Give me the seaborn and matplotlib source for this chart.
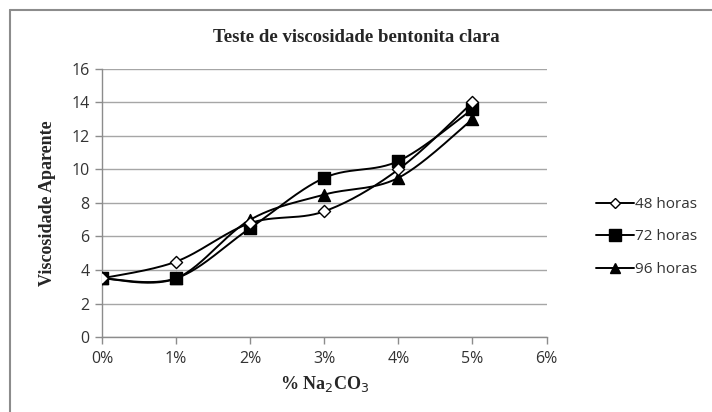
import numpy as np
import pandas as pd
import seaborn as sns
import matplotlib
matplotlib.use("Agg")
import matplotlib.pyplot as plt
from matplotlib.lines import Line2D

# ---- data ----
concentracao = [0, 1, 2, 3, 4, 5]          # % Na2CO3
h48 = [3.5, 4.5, 6.8, 7.5, 10.0, 14.0]
h72 = [3.5, 3.5, 6.5, 9.5, 10.5, 13.6]
h96 = [3.5, 3.5, 7.0, 8.5, 9.5, 13.0]
series_names = ["48 horas", "72 horas", "96 horas"]
x_ticks = [0, 1, 2, 3, 4, 5, 6]
x_tick_labels = ["0%", "1%", "2%", "3%", "4%", "5%", "6%"]
y_ticks = [0, 2, 4, 6, 8, 10, 12, 14, 16]

sns.set_theme(style="white")
plt.rcParams["font.family"] = ["Open Sans", "DejaVu Sans"]

df = pd.DataFrame({"x": concentracao * 3,
                   "y": h48 + h72 + h96,
                   "serie": sum([[n] * len(concentracao) for n in series_names], [])})

fig = plt.figure(figsize=(7.12, 4.12), dpi=100)
ax = fig.add_axes([102 / 712, 1 - 337 / 412, (546.5 - 102) / 712, (337 - 69) / 412])


def smooth(xs, ys, n=30):
    """Excel-like smoothed line (Catmull-Rom Bezier) through the data points."""
    P = np.column_stack([xs, ys]).astype(float)
    pts = []
    for i in range(len(P) - 1):
        p0 = P[i - 1] if i > 0 else P[i]
        p1, p2 = P[i], P[i + 1]
        p3 = P[i + 2] if i + 2 < len(P) else P[i + 1]
        c1 = p1 + (p2 - p0) / 6
        c2 = p2 - (p3 - p1) / 6
        t = np.linspace(0, 1, n)[:, None]
        seg = ((1 - t) ** 3) * p1 + 3 * ((1 - t) ** 2) * t * c1 + 3 * (1 - t) * t ** 2 * c2 + t ** 3 * p2
        pts.append(seg if i == 0 else seg[1:])
    pts = np.vstack(pts)
    return pts[:, 0], pts[:, 1]


styles = {
    "48 horas": dict(marker="D", s=38, facecolor="white"),
    "72 horas": dict(marker="s", s=80, facecolor="black"),
    "96 horas": dict(marker="^", s=75, facecolor="black"),
}

for name in series_names:
    sub = df[df.serie == name]
    sx, sy = smooth(sub.x.values, sub.y.values)
    sns.lineplot(x=sx, y=sy, ax=ax, color="black", lw=1.4, sort=False, estimator=None)

for name in ["72 horas", "96 horas", "48 horas"]:
    sub = df[df.serie == name]
    st = styles[name]
    sns.scatterplot(x=sub.x, y=sub.y, ax=ax, marker=st["marker"], s=st["s"],
                    color=st["facecolor"], edgecolor="black", linewidth=1.0, zorder=5)

ax.set_xlim(0, 6)
ax.set_ylim(0, 16)
ax.set_xticks(x_ticks)
ax.set_xticklabels(x_tick_labels)
ax.set_yticks(y_ticks)
ax.grid(axis="y", color="#a6a6a6", lw=1.0)
ax.set_axisbelow(True)
for s in ["top", "right"]:
    ax.spines[s].set_visible(False)
for s in ["left", "bottom"]:
    ax.spines[s].set_color("#8c8c8c")
    ax.spines[s].set_linewidth(1.0)
ax.tick_params(axis="both", which="major", length=5, width=1.0, color="#8c8c8c",
               labelsize=11.5, labelcolor="#333333", direction="out", left=True, bottom=True)
ax.tick_params(axis="y", pad=4)
ax.tick_params(axis="x", pad=5)

ax.set_xlabel("% Na$_2$CO$_3$", fontfamily="Liberation Serif", fontweight="bold",
              fontsize=13, labelpad=5)
ax.set_ylabel("Viscosidade Aparente", fontfamily="Liberation Serif", fontweight="bold",
              fontsize=13, labelpad=11)
fig.text(356 / 712, 1 - 38 / 412, "Teste de viscosidade bentonita clara",
         fontfamily="Liberation Serif", fontweight="bold", fontsize=13.5,
         ha="center", va="center")

handles = [
    Line2D([], [], color="black", lw=1.4, marker="D", markersize=5,
           markerfacecolor="white", markeredgecolor="black"),
    Line2D([], [], color="black", lw=1.4, marker="s", markersize=8,
           markerfacecolor="black"),
    Line2D([], [], color="black", lw=1.4, marker="^", markersize=7.5,
           markerfacecolor="black"),
]
fig.legend(handles, series_names, loc="center left", bbox_to_anchor=(582 / 712, 1 - 237 / 412),
           frameon=False, fontsize=11, handlelength=2.5, handletextpad=0.08,
           labelspacing=1.15, labelcolor="#333333")

# chart frame (top and left edges visible)
fig.add_artist(Line2D([10 / 712, 10 / 712], [0, 1 - 10 / 412], transform=fig.transFigure,
                      color="#8c8c8c", lw=1.5))
fig.add_artist(Line2D([10 / 712, 1], [1 - 10 / 412, 1 - 10 / 412], transform=fig.transFigure,
                      color="#8c8c8c", lw=1.5))

fig.savefig("out.png", dpi=100)
